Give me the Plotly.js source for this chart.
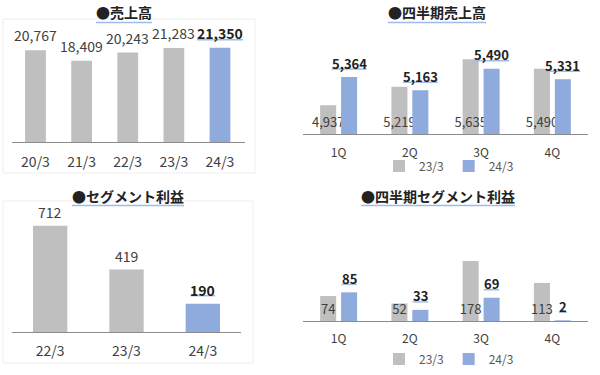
<!DOCTYPE html>
<html><head><meta charset="utf-8">
<script src="https://cdn.plot.ly/plotly-3.0.1.min.js"></script>
<style>html,body{margin:0;padding:0;background:#fff}#chart{width:600px;height:375px}</style>
</head><body><div id="chart"></div>
<script>
// ---- data ----
const yearCats = ['20/3','21/3','22/3','23/3','24/3'];
const yearSales = [20767, 18409, 20243, 21283, 21350];
const segYearCats = ['22/3','23/3','24/3'];
const segYearProfit = [712, 419, 190];
const quarterCats = ['1Q','2Q','3Q','4Q'];
const qSalesPrev = [4937, 5219, 5635, 5490];
const qSalesCur  = [5364, 5163, 5490, 5331];
const qProfitPrev = [74, 52, 178, 113];
const qProfitCur  = [85, 33, 69, 2];
const seriesNames = ['23/3', '24/3'];
const titles = ['●売上高', '●四半期売上高', '●セグメント利益', '●四半期セグメント利益'];

// ---- style ----
const FONT = '"Noto Sans CJK JP", "Noto Sans", sans-serif';
const GRAY = '#bfbfbf', BLUE = '#8faadc', LINE = '#8c8c8c';
const TXT = '#404040', BOLD_TXT = '#222222', UL = '#9dbde9';
const qSalesAxisMin = 4500;

const fmt = v => v.toLocaleString('en-US');
const canvas = document.createElement('canvas');
const ctx = canvas.getContext('2d');
function textW(str, size, bold) {
  ctx.font = (bold ? 'bold ' : '') + size + 'px ' + FONT;
  return ctx.measureText(str).width;
}

const lastIdx = yearSales.length - 1;
const lastSeg = segYearProfit.length - 1;
const barW = 0.45, qBarW = 0.225, qOff = 0.147, qOffPx = 10.5;

const traces = [
  { type: 'bar', x: yearCats, y: yearSales, xaxis: 'x', yaxis: 'y', width: barW,
    marker: { color: yearSales.map((v, i) => i === lastIdx ? BLUE : GRAY) },
    showlegend: false, hoverinfo: 'none' },
  { type: 'bar', name: seriesNames[0], x: quarterCats, y: qSalesPrev.map(v => v - qSalesAxisMin), base: qSalesAxisMin,
    xaxis: 'x2', yaxis: 'y2', width: qBarW, offset: -qOff - qBarW / 2, marker: { color: GRAY },
    text: qSalesPrev.map(fmt), textposition: 'inside', insidetextanchor: 'start', constraintext: 'none', textangle: 0,
    insidetextfont: { size: 13, color: TXT, family: FONT }, cliponaxis: false, legend: 'legend', hoverinfo: 'none' },
  { type: 'bar', name: seriesNames[1], x: quarterCats, y: qSalesCur.map(v => v - qSalesAxisMin), base: qSalesAxisMin,
    xaxis: 'x2', yaxis: 'y2', width: qBarW, offset: qOff - qBarW / 2, marker: { color: BLUE },
    legend: 'legend', hoverinfo: 'none' },
  { type: 'bar', x: segYearCats, y: segYearProfit, xaxis: 'x3', yaxis: 'y3', width: barW,
    marker: { color: segYearProfit.map((v, i) => i === lastSeg ? BLUE : GRAY) },
    showlegend: false, hoverinfo: 'none' },
  { type: 'bar', name: seriesNames[0], x: quarterCats, y: qProfitPrev,
    xaxis: 'x4', yaxis: 'y4', width: qBarW, offset: -qOff - qBarW / 2, marker: { color: GRAY },
    text: qProfitPrev.map(fmt), textposition: 'inside', insidetextanchor: 'start', constraintext: 'none', textangle: 0,
    insidetextfont: { size: 13, color: TXT, family: FONT }, cliponaxis: false, legend: 'legend2', hoverinfo: 'none' },
  { type: 'bar', name: seriesNames[1], x: quarterCats, y: qProfitCur,
    xaxis: 'x4', yaxis: 'y4', width: qBarW, offset: qOff - qBarW / 2, marker: { color: BLUE },
    legend: 'legend2', hoverinfo: 'none' }
];

const W = 600, H = 375;
const px = x => x / W, py = y => 1 - y / H;

function xax(dom, anchor, size, standoff) {
  return { domain: dom, anchor: anchor, type: 'category', showline: true, linecolor: LINE, linewidth: 1,
    ticks: '', showgrid: false, zeroline: false, fixedrange: true, ticklabelstandoff: standoff,
    tickfont: { size: size, color: TXT, family: FONT } };
}
function yax(dom, range) {
  return { domain: dom, range: range, visible: false, fixedrange: true, showgrid: false, zeroline: false };
}

const annotations = [];
const shapes = [];

// titles (centre x, centre y, underline y)
const titlePos = [[124, 12, 22.5], [437, 12, 22.5], [128, 195.5, 205.5], [438, 195.5, 205.5]];
titles.forEach((t, i) => {
  annotations.push({
    text: '<b>' + t + '</b>', xref: 'paper', yref: 'paper', x: px(titlePos[i][0]), y: py(titlePos[i][1]),
    xanchor: 'center', yanchor: 'middle', showarrow: false, font: { size: 14, color: BOLD_TXT, family: FONT }
  });
  const w = textW(t, 14, true);
  shapes.push({ type: 'line', xref: 'paper', yref: 'paper', layer: 'above',
    x0: px(titlePos[i][0] - w / 2), x1: px(titlePos[i][0] + w / 2),
    y0: py(titlePos[i][2]), y1: py(titlePos[i][2]), line: { color: UL, width: 1.5 } });
});

// faint panel borders (left panels)
shapes.push({ type: 'rect', xref: 'paper', yref: 'paper', x0: px(3), x1: px(255), y0: py(19), y1: py(173),
  line: { color: '#eeeeee', width: 1 }, layer: 'below' });
shapes.push({ type: 'rect', xref: 'paper', yref: 'paper', x0: px(3), x1: px(253), y0: py(201), y1: py(363),
  line: { color: '#eeeeee', width: 1 }, layer: 'below' });

// value labels above bars (bold ones get a light-blue underline)
function valueLabels(xref, yref, cats, vals, size, xshift, boldFn, yshift) {
  vals.forEach((v, i) => {
    const bold = boldFn(i);
    const s = fmt(v);
    annotations.push({ xref: xref, yref: yref, x: cats[i], y: v, xshift: xshift, yshift: yshift,
      xanchor: 'center', yanchor: 'middle', showarrow: false,
      text: bold ? '<b>' + s + '</b>' : s,
      font: { size: size, color: bold ? BOLD_TXT : TXT, family: FONT } });
    if (bold) {
      const w = textW(s, size, true);
      shapes.push({ type: 'line', xref: xref, yref: yref, xsizemode: 'pixel', ysizemode: 'pixel',
        xanchor: i, yanchor: v, x0: xshift - w / 2, x1: xshift + w / 2, y0: 8, y1: 8,
        line: { color: UL, width: 1.5 } });
    }
  });
}
valueLabels('x', 'y', yearCats, yearSales, 14, 0, i => i === lastIdx, 15);
valueLabels('x2', 'y2', quarterCats, qSalesCur, 13, qOffPx, () => true, 14);
valueLabels('x3', 'y3', segYearCats, segYearProfit, 14, 0, i => i === lastSeg, 13.5);
valueLabels('x4', 'y4', quarterCats, qProfitCur, 13, qOffPx, () => true, 14);

const legendBase = { orientation: 'h', xanchor: 'center', yanchor: 'middle', itemclick: false, itemdoubleclick: false,
  font: { size: 12, color: '#595959', family: FONT }, bgcolor: 'rgba(0,0,0,0)', itemwidth: 30,
  traceorder: 'normal' };

const layout = {
  width: W, height: H, margin: { l: 0, r: 0, t: 0, b: 0 },
  paper_bgcolor: '#fff', plot_bgcolor: 'rgba(0,0,0,0)',
  font: { family: FONT, color: TXT },
  barmode: 'overlay',
  xaxis: xax([px(12), px(245)], 'y', 14, 7),
  yaxis: yax([py(142), py(31.5)], [0, 25000]),
  xaxis2: xax([px(303), px(588)], 'y2', 12, 8),
  yaxis2: yax([py(134), py(35.2)], [qSalesAxisMin, 6000]),
  xaxis3: xax([px(12), px(241)], 'y3', 14, 6),
  yaxis3: yax([py(332), py(212.6)], [0, 800]),
  xaxis4: xax([px(303), px(588)], 'y4', 12, 7),
  yaxis4: yax([py(321), py(236.7)], [0, 250]),
  legend: Object.assign({}, legendBase, { x: px(449), y: py(166) }),
  legend2: Object.assign({}, legendBase, { x: px(449), y: py(359) }),
  annotations: annotations,
  shapes: shapes,
  showlegend: true
};

Plotly.newPlot('chart', traces, layout, { staticPlot: true, displayModeBar: false });
</script>
</body></html>
